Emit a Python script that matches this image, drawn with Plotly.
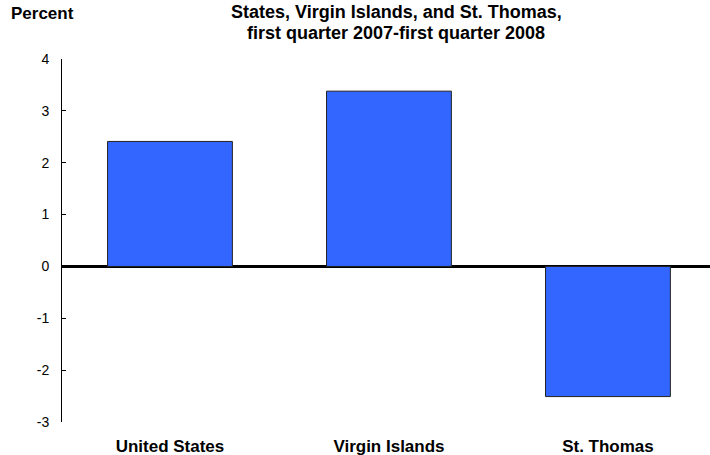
import plotly.graph_objects as go

categories = ["United States", "Virgin Islands", "St. Thomas"]
values = [2.41, 3.38, -2.51]
y_ticks = [-3, -2, -1, 0, 1, 2, 3, 4]
y_tick_labels = ["-3", "-2", "-1", "0", "1", "2", "3", "4"]
title_lines = ["States, Virgin Islands, and St. Thomas,",
               "first quarter 2007-first quarter 2008"]

fig = go.Figure(go.Bar(
    x=categories, y=values,
    marker=dict(color="#3366FF", line=dict(color="#222222", width=1)),
    width=0.57,
))

font_family = "Liberation Sans, Arial, sans-serif"

# plot area spans x 62..710 (648 px) and y 59..422 (363 px)
def px_x(px):
    return (px - 62) / 648

def px_y(py):
    return 1 + (59 - py) / 363

annotations = [dict(
    text="<b>Percent</b>", x=px_x(9), y=px_y(14),
    xref="paper", yref="paper", xanchor="left", yanchor="middle",
    showarrow=False, font=dict(family=font_family, size=17, color="black"),
)]
for line, cy in zip(title_lines, [12, 33]):
    annotations.append(dict(
        text=f"<b>{line}</b>", x=px_x(396), y=px_y(cy),
        xref="paper", yref="paper", xanchor="center", yanchor="middle",
        showarrow=False, font=dict(family=font_family, size=18, color="black"),
    ))

fig.update_layout(
    width=710, height=455,
    margin=dict(l=62, r=0, t=59, b=33, autoexpand=False),
    paper_bgcolor="white", plot_bgcolor="white",
    showlegend=False,
    font=dict(family=font_family, size=13, color="black"),
    annotations=annotations,
)

fig.update_xaxes(
    range=[-0.493, 2.466], showline=False, showgrid=False, zeroline=False,
    automargin=False,
    ticks="", tickfont=dict(family=font_family, size=17, color="black", weight="bold"),
    ticklabelstandoff=12,
)
fig.update_yaxes(
    range=[-3, 4], tickvals=y_ticks, ticktext=y_tick_labels,
    showline=True, linecolor="black", linewidth=1, automargin=False,
    ticks="inside", ticklen=4, tickcolor="black", showgrid=False,
    zeroline=True, zerolinecolor="black", zerolinewidth=3,
    layer="above traces",
    tickfont=dict(family=font_family, size=14, color="black"),
    ticklabelstandoff=9,
)

fig.write_html("out.html", config={"displayModeBar": False},
               post_script="document.body.style.margin='0px';document.body.style.overflow='hidden';")
